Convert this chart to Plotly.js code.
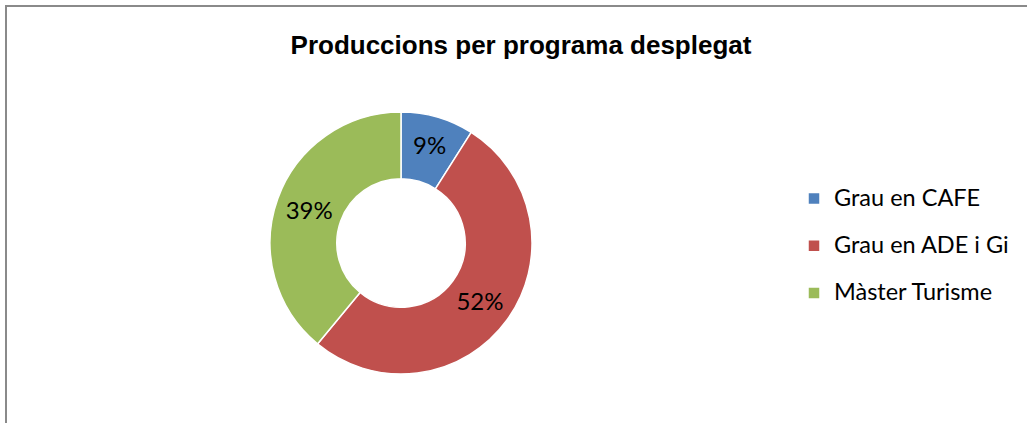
<!DOCTYPE html>
<html>
<head>
<meta charset="utf-8">
<script src="https://cdn.plot.ly/plotly-3.0.1.min.js"></script>
<style>
  html, body { margin: 0; padding: 0; background: #ffffff; }
  #chart { width: 1027px; height: 423px; position: absolute; left: 0; top: 0; }
  #frame { position: absolute; left: 5px; top: 5px; width: 1100px; height: 600px;
           border-left: 2px solid #8a8a8a; border-top: 2px solid #8a8a8a; pointer-events: none; }
</style>
</head>
<body>
<div id="chart"></div>
<div id="frame"></div>
<script>
const categories = ["Grau en CAFE", "Grau en ADE i Gi", "Màster Turisme"];
const values = [9, 52, 39];
const colors = ["#4F81BD", "#C0504D", "#9BBB59"];
const chartTitle = "Produccions per programa desplegat";

const W = 1027, H = 423;
const cx = 401, cy = 243, r = 131;

const trace = {
  type: "pie",
  labels: categories.map(c => '<span style="font-size:23.5px;baseline-shift:6px">' + c + '</span>'),
  values: values,
  hole: 0.49,
  sort: false,
  direction: "clockwise",
  rotation: 0,
  marker: { colors: colors, line: { color: "#ffffff", width: 1.5 } },
  texttemplate: "%{percent:.0%}",
  textposition: "inside",
  insidetextorientation: "horizontal",
  textfont: { family: "Lato, 'Liberation Sans', sans-serif", size: 24, color: "#000000" },
  domain: { x: [(cx - r) / W, (cx + r) / W], y: [(H - cy - r) / H, (H - cy + r) / H] },
  hoverinfo: "percent"
};

const layout = {
  width: W, height: H,
  margin: { l: 0, r: 0, t: 0, b: 0 },
  paper_bgcolor: "rgba(0,0,0,0)",
  plot_bgcolor: "rgba(0,0,0,0)",
  title: {
    text: "<b>" + chartTitle + "</b>",
    font: { family: "'Liberation Sans', Arial, sans-serif", size: 26, color: "#000000" },
    x: 521 / W, xanchor: "center", xref: "paper",
    y: 1 - 45 / H, yanchor: "middle", yref: "container"
  },
  showlegend: true,
  legend: {
    x: 794 / W, xanchor: "left",
    y: 1 - 170 / H, yanchor: "top",
    font: { family: "Lato, 'Liberation Sans', sans-serif", size: 34, color: "#000000" },
    bgcolor: "rgba(0,0,0,0)",
    traceorder: "normal"
  }
};

Plotly.newPlot("chart", [trace], layout, { displayModeBar: false, staticPlot: true });
</script>
</body>
</html>
